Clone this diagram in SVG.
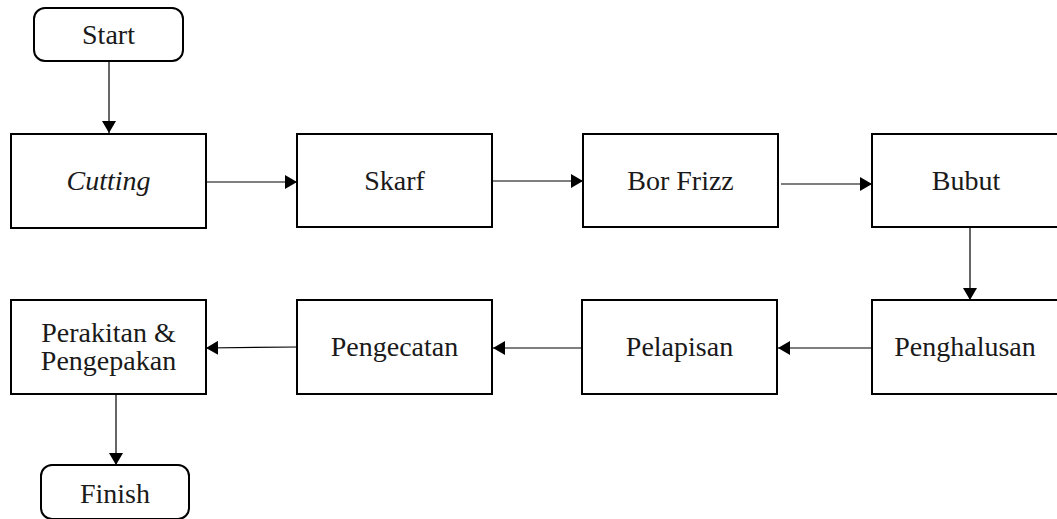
<svg xmlns="http://www.w3.org/2000/svg" width="1057" height="519" viewBox="0 0 1057 519">
<style>
.box{fill:#fff;stroke:#000;stroke-width:2}
.t{font-size:28px;fill:#1a1a1a;text-anchor:middle}
.c{stroke:#000;stroke-width:1.2;fill:none;marker-end:url(#ah)}
</style>
<defs>
<marker id="ah" markerUnits="userSpaceOnUse" markerWidth="13" markerHeight="14" refX="12" refY="7" orient="auto">
<path d="M0,0 L12,7 L0,14 Z" fill="#000"/>
</marker>
</defs>
<rect width="1057" height="519" fill="#fff"/>
<g id="connectors">
<line class="c" x1="109" y1="62" x2="109" y2="133"/>
<line class="c" x1="206" y1="182" x2="297" y2="182"/>
<line class="c" x1="492" y1="181" x2="583" y2="181"/>
<line class="c" x1="781" y1="184" x2="872" y2="184"/>
<line class="c" x1="970" y1="228" x2="970" y2="300"/>
<line class="c" x1="872" y1="348" x2="778" y2="348"/>
<line class="c" x1="582" y1="348" x2="493" y2="348"/>
<line class="c" x1="297" y1="347" x2="206" y2="348"/>
<line class="c" x1="116" y1="394" x2="116" y2="465"/>
</g>
<g id="start"><rect class="box" x="34" y="8" width="149" height="53" rx="11"/><text class="t" font-family="Liberation Serif" x="108.5" y="44">Start</text></g>
<g id="cutting"><rect class="box" x="11" y="134" width="195" height="94"/><text class="t" font-family="Liberation Serif" x="108.5" y="190" font-style="italic">Cutting</text></g>
<g id="skarf"><rect class="box" x="297" y="134" width="195" height="93"/><text class="t" font-family="Liberation Serif" x="394.5" y="190">Skarf</text></g>
<g id="borfrizz"><rect class="box" x="583" y="134" width="195" height="93"/><text class="t" font-family="Liberation Serif" x="680.5" y="190">Bor Frizz</text></g>
<g id="bubut"><rect class="box" x="872" y="134" width="195" height="93"/><text class="t" font-family="Liberation Serif" x="966" y="190">Bubut</text></g>
<g id="penghalusan"><rect class="box" x="872" y="300" width="195" height="94"/><text class="t" font-family="Liberation Serif" x="965" y="356">Penghalusan</text></g>
<g id="pelapisan"><rect class="box" x="582" y="300" width="195" height="94"/><text class="t" font-family="Liberation Serif" x="679.5" y="356">Pelapisan</text></g>
<g id="pengecatan"><rect class="box" x="297" y="300" width="195" height="94"/><text class="t" font-family="Liberation Serif" x="394.5" y="356">Pengecatan</text></g>
<g id="perakitan"><rect class="box" x="11" y="300" width="195" height="94"/><text class="t" font-family="Liberation Serif" x="108.5" y="342">Perakitan &amp;</text><text class="t" font-family="Liberation Serif" x="108.5" y="370">Pengepakan</text></g>
<g id="finish"><rect class="box" x="41" y="465" width="148" height="54" rx="11"/><text class="t" font-family="Liberation Serif" x="115" y="503">Finish</text></g>
</svg>
